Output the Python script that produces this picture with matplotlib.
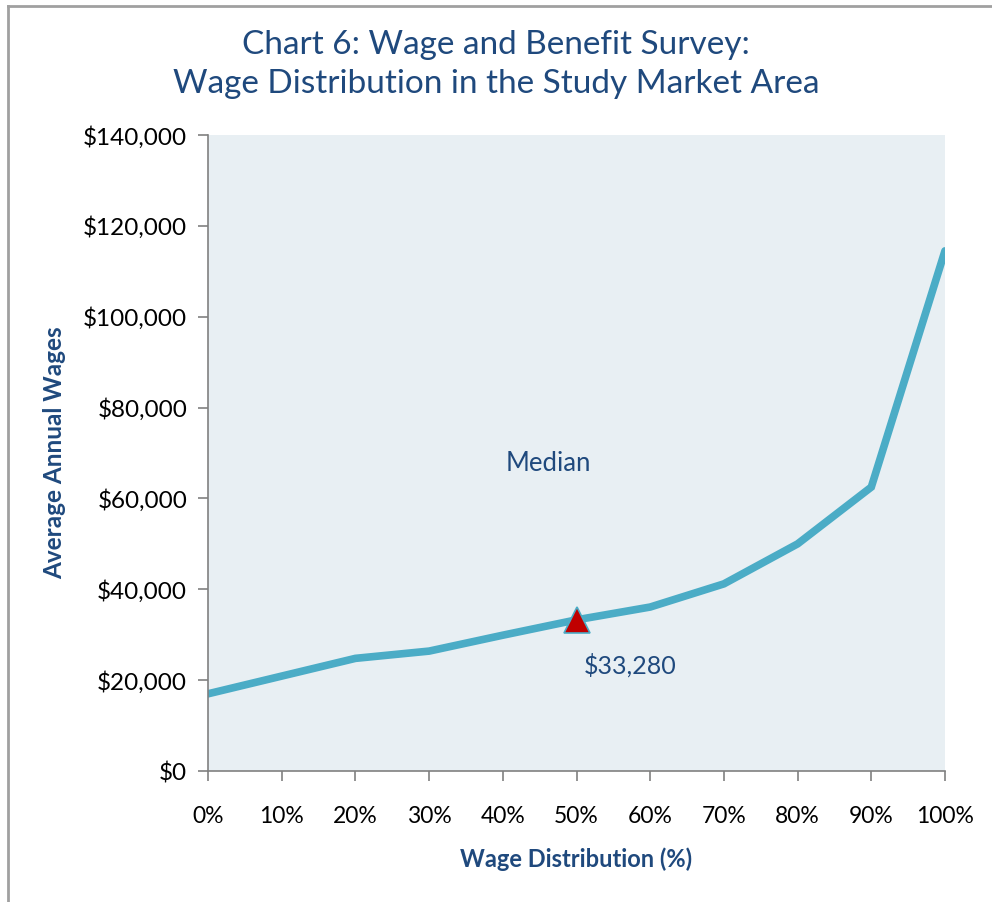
import matplotlib.pyplot as plt
from matplotlib.lines import Line2D

plt.rcParams['font.family'] = ['Lato', 'DejaVu Sans']

# wage percentiles and average annual wages
pct = [0, 10, 20, 30, 40, 50, 60, 70, 80, 90, 100]
wages = [17000, 20900, 24800, 26400, 29900, 33280, 36100, 41200, 50000, 62500, 114500]
median_pct = 50
median_wage = 33280
y_ticks = [0, 20000, 40000, 60000, 80000, 100000, 120000, 140000]

navy = '#1F497D'
teal = '#4BACC6'

fig = plt.figure(figsize=(9.92, 9.02), dpi=100)
ax = fig.add_axes([0.2097, 0.1452, 0.7429, 0.7051])
ax.set_facecolor('#E8EFF3')

ax.plot(pct, wages, color=teal, lw=5.5, solid_joinstyle='miter', solid_capstyle='round', zorder=2)
ax.plot([median_pct], [median_wage], marker='^', ms=19, color='#C00000',
        mec=teal, mew=1.2, ls='none', zorder=3)
ax.text(46.2, 67800, 'Median', color=navy, fontsize=18.5, ha='center', va='center')
ax.text(57.3, 23300, '${:,}'.format(median_wage), color=navy, fontsize=18, ha='center', va='center')

ax.set_xlim(0, 100)
ax.set_ylim(0, 140000)
ax.set_xticks(pct)
ax.set_xticklabels(['{}%'.format(p) for p in pct])
ax.set_yticks(y_ticks)
ax.set_yticklabels(['${:,}'.format(v) for v in y_ticks])
ax.tick_params(axis='both', colors='#808080', labelcolor='black', length=7, width=1.2)
ax.tick_params(axis='x', pad=18, labelsize=16.5)
ax.tick_params(axis='y', pad=8, labelsize=17.5)

for s in ['top', 'right']:
    ax.spines[s].set_visible(False)
for s in ['left', 'bottom']:
    ax.spines[s].set_color('#808080')
    ax.spines[s].set_linewidth(1.2)

ax.set_xlabel('Wage Distribution (%)', color=navy, fontsize=17, fontweight='bold', labelpad=15)
ax.set_ylabel('Average Annual Wages', color=navy, fontsize=17.5, fontweight='bold', labelpad=12)

fig.text(0.5, 0.9285, 'Chart 6: Wage and Benefit Survey:\nWage Distribution in the Study Market Area',
         color=navy, fontsize=24, ha='center', va='center', linespacing=1.35)

# thin gray frame along the top and left edges
fig.add_artist(Line2D([0.008, 1.0], [0.9935, 0.9935], color='#A0A0A0', lw=2, transform=fig.transFigure))
fig.add_artist(Line2D([0.008, 0.008], [0.0, 0.9935], color='#A0A0A0', lw=2, transform=fig.transFigure))

fig.savefig('out.png', dpi=100)
